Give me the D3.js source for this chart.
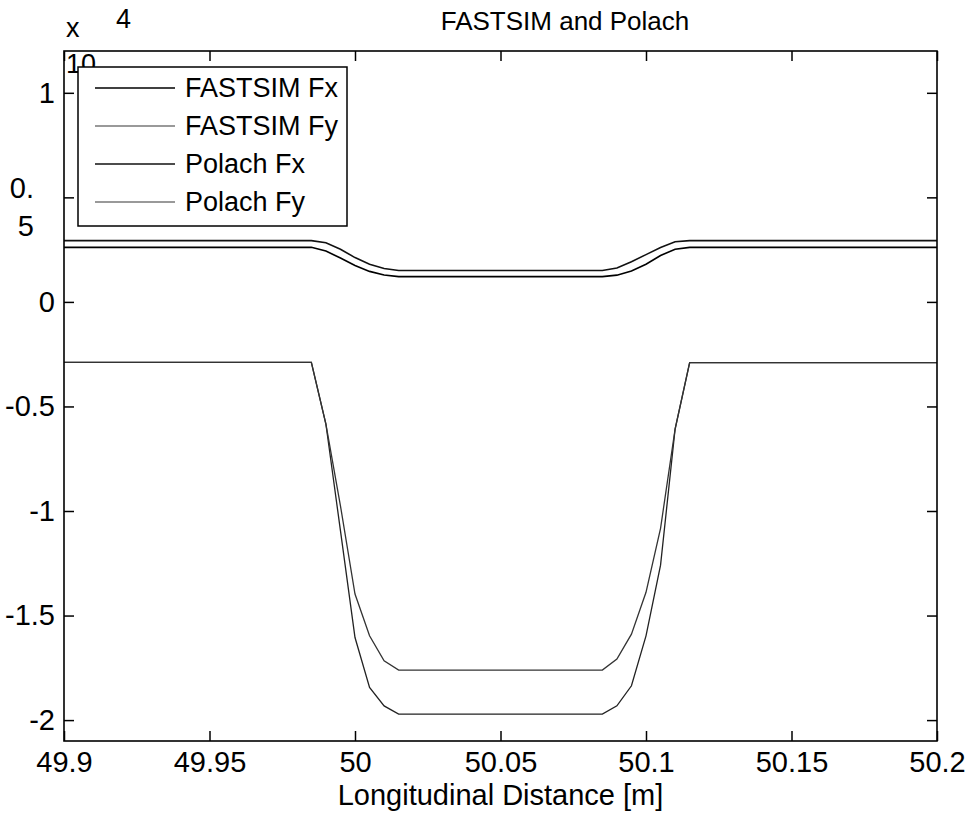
<!DOCTYPE html>
<html>
<head>
<meta charset="utf-8">
<script src="https://cdnjs.cloudflare.com/ajax/libs/d3/7.8.5/d3.min.js"></script>
<style>
  body { margin: 0; background: #fff; }
  text { font-family: "Liberation Sans", Arial, sans-serif; fill: #000; }
</style>
</head>
<body>
<div id="chart"></div>
<script>
// Data (forces in N, axis shown x 10^4)
var distance = [49.9, 49.98, 49.985, 49.99, 49.995, 50.0, 50.005, 50.01, 50.015, 50.085, 50.09, 50.095, 50.1, 50.105, 50.11, 50.115, 50.12, 50.2];
var fastsimFx = [2610, 2610, 2610, 2430, 2100, 1740, 1460, 1290, 1210, 1210, 1280, 1480, 1800, 2220, 2520, 2610, 2610, 2610];
var fastsimFy = [-2890, -2890, -2890, -5840, -10940, -16050, -18440, -19320, -19710, -19710, -19320, -18360, -15970, -12590, -6080, -2900, -2900, -2900];
var polachFx = [2930, 2930, 2930, 2830, 2520, 2120, 1800, 1600, 1500, 1500, 1620, 1920, 2260, 2600, 2880, 2930, 2930, 2930];
var polachFy = [-2890, -2890, -2890, -5840, -9750, -13970, -15970, -17160, -17610, -17610, -17080, -15890, -13890, -10830, -6080, -2900, -2900, -2900];

var seriesNames = ["FASTSIM Fx", "FASTSIM Fy", "Polach Fx", "Polach Fy"];
var seriesValues = [fastsimFx, fastsimFy, polachFx, polachFy];
var seriesColors = ["#000", "#222", "#111", "#333"];
var seriesWidths = [1.6, 1.3, 1.6, 1.3];

var xTicks = [49.9, 49.95, 50, 50.05, 50.1, 50.15, 50.2];
var yTicks = [-20000, -15000, -10000, -5000, 0, 5000, 10000];

var width = 971, height = 814;
var margin = {left: 64, right: 937, top: 51, bottom: 741};

var svg = d3.select("#chart")
  .append("svg")
  .attr("width", width)
  .attr("height", height);

var x = d3.scaleLinear().domain([49.9, 50.2]).range([margin.left, margin.right]);
var y = d3.scaleLinear().domain([-21000, 12000]).range([margin.bottom, margin.top]);

svg.append("clipPath").attr("id", "clip")
  .append("rect")
  .attr("x", margin.left).attr("y", margin.top)
  .attr("width", margin.right - margin.left).attr("height", margin.bottom - margin.top);

// Lines
var line = d3.line()
  .x(function(d, i) { return x(distance[i]); })
  .y(function(d) { return y(d); });

svg.append("g")
  .attr("clip-path", "url(#clip)")
  .selectAll("path")
  .data(seriesValues)
  .enter()
  .append("path")
  .attr("d", line)
  .attr("fill", "none")
  .attr("stroke", function(d, i) { return seriesColors[i]; })
  .attr("stroke-width", function(d, i) { return seriesWidths[i]; });

// Axes (ticks inside, on all four sides)
var tickLen = 10;
function fmtX(d) { return String(+d.toFixed(2)); }
function fmtY(d) { return String(+(d / 10000).toFixed(2)); } // plain hyphen minus, like matlab

svg.append("g")
  .attr("transform", "translate(0," + margin.bottom + ")")
  .call(d3.axisBottom(x).tickValues(xTicks).tickSizeInner(-tickLen).tickSizeOuter(0).tickPadding(10).tickFormat(fmtX))
  .call(function(g) {
    g.select(".domain").remove();
    g.selectAll("text").attr("font-size", 29).attr("font-family", "Liberation Sans, Arial, sans-serif");
  });

svg.append("g")
  .attr("transform", "translate(0," + margin.top + ")")
  .call(d3.axisTop(x).tickValues(xTicks).tickSizeInner(-tickLen).tickSizeOuter(0).tickFormat(""))
  .call(function(g) { g.select(".domain").remove(); });

var yAxisLeft = svg.append("g")
  .attr("transform", "translate(" + margin.left + ",0)")
  .call(d3.axisLeft(y).tickValues(yTicks).tickSizeInner(-tickLen).tickSizeOuter(0).tickPadding(9).tickFormat(fmtY))
  .call(function(g) {
    g.select(".domain").remove();
    g.selectAll("text").attr("font-size", 29).attr("font-family", "Liberation Sans, Arial, sans-serif");
  });

// the 0.5 label wraps onto two lines in the original
yAxisLeft.selectAll(".tick text")
  .filter(function(d) { return d === 5000; })
  .text(null)
  .attr("dy", null)
  .call(function(t) {
    t.append("tspan").attr("x", -30).attr("y", 0).text("0.");
    t.append("tspan").attr("x", -30).attr("y", 38).text("5");
  });

svg.append("g")
  .attr("transform", "translate(" + margin.right + ",0)")
  .call(d3.axisRight(y).tickValues(yTicks).tickSizeInner(-tickLen).tickSizeOuter(0).tickFormat(""))
  .call(function(g) { g.select(".domain").remove(); });

svg.selectAll(".tick line").attr("stroke", "#000").attr("stroke-width", 1.5);

// Box
svg.append("rect")
  .attr("x", margin.left).attr("y", margin.top)
  .attr("width", margin.right - margin.left).attr("height", margin.bottom - margin.top)
  .attr("fill", "none")
  .attr("stroke", "#000")
  .attr("stroke-width", 1.6);

// Exponent label
svg.append("text").attr("x", 66).attr("y", 37).attr("font-size", 27).text("x");
svg.append("text").attr("x", 116).attr("y", 28).attr("font-size", 27).text("4");
svg.append("text").attr("x", 66).attr("y", 73).attr("font-size", 27).text("10");

// Title and x label
svg.append("text")
  .attr("x", 565).attr("y", 30)
  .attr("text-anchor", "middle")
  .attr("font-size", 26)
  .text("FASTSIM and Polach");

svg.append("text")
  .attr("x", (margin.left + margin.right) / 2).attr("y", 805)
  .attr("text-anchor", "middle")
  .attr("font-size", 29)
  .text("Longitudinal Distance [m]");

// Legend
var legend = svg.append("g").attr("transform", "translate(78,67)");
legend.append("rect")
  .attr("width", 269).attr("height", 159)
  .attr("fill", "#fff")
  .attr("stroke", "#000")
  .attr("stroke-width", 1.5);

var item = legend.selectAll(".legend")
  .data(seriesNames)
  .enter()
  .append("g")
  .attr("class", "legend")
  .attr("transform", function(d, i) { return "translate(0," + (21 + i * 38) + ")"; });

item.append("line")
  .attr("x1", 17).attr("x2", 97)
  .attr("stroke", function(d, i) { return i % 2 ? "#777" : seriesColors[i]; })
  .attr("stroke-width", function(d, i) { return seriesWidths[i]; });

item.append("text")
  .attr("x", 107)
  .attr("dy", "0.35em")
  .attr("font-size", 27)
  .text(function(d) { return d; });
</script>
</body>
</html>
